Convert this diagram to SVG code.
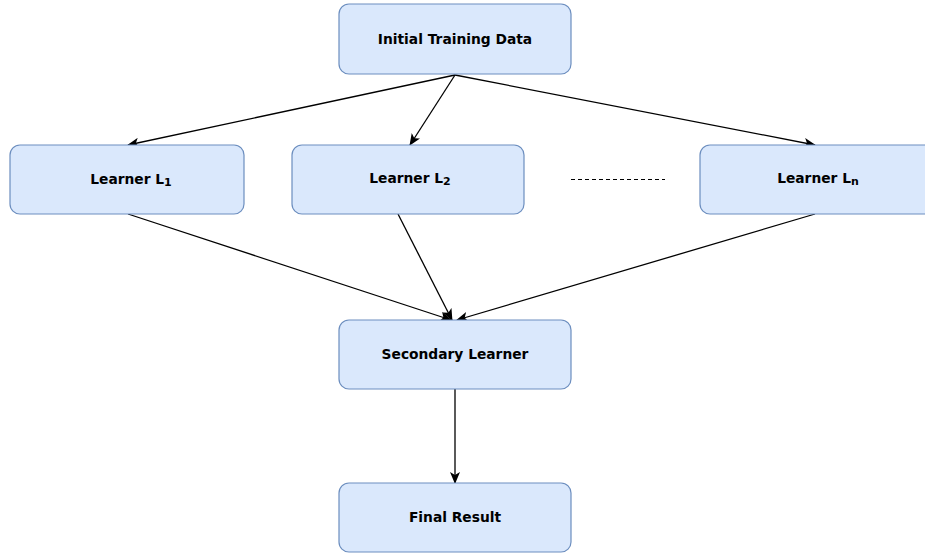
<svg xmlns="http://www.w3.org/2000/svg" width="925" height="553" viewBox="0 0 925 553">
<style>
.box{fill:#dae8fc;stroke:#6c8ebf;stroke-width:1.2}
.lbl{font-family:"DejaVu Sans",Verdana,sans-serif;font-weight:bold;font-size:13.8px;fill:#000;text-anchor:middle;dominant-baseline:middle}
.sub{font-size:11px}
.edge{stroke:#000;stroke-width:1.3;fill:none;marker-end:url(#arr)}
</style>
<defs>
<marker id="arr" markerWidth="12" markerHeight="10" refX="11" refY="5" orient="auto" markerUnits="userSpaceOnUse">
<path d="M0,0 L12,5 L0,10 L3,5 Z" fill="#000"/>
</marker>
</defs>
<rect width="925" height="553" fill="#fff"/>
<g id="connectors">
<line class="edge" x1="455" y1="75" x2="128" y2="145"/>
<line class="edge" x1="455" y1="75" x2="410" y2="145"/>
<line class="edge" x1="455" y1="75" x2="815" y2="145"/>
<line class="edge" x1="128" y1="214" x2="451" y2="320"/>
<line class="edge" x1="398" y1="214" x2="452" y2="320"/>
<line class="edge" x1="815" y1="214" x2="457" y2="320"/>
<line class="edge" x1="455" y1="389" x2="455" y2="483"/>
<line x1="571" y1="179.5" x2="665" y2="179.5" stroke="#000" stroke-width="1" stroke-dasharray="4,3"/>
</g>
<g id="initial">
<rect class="box" x="339" y="4" width="232" height="70" rx="10"/>
<text class="lbl" x="455" y="40">Initial Training Data</text>
</g>
<g id="learner1">
<rect class="box" x="10" y="145" width="234" height="69" rx="10"/>
<text class="lbl" x="131" y="180">Learner L<tspan class="sub" dy="3">1</tspan></text>
</g>
<g id="learner2">
<rect class="box" x="292" y="145" width="232" height="69" rx="10"/>
<text class="lbl" x="410" y="179">Learner L<tspan class="sub" dy="3">2</tspan></text>
</g>
<g id="learnern">
<rect class="box" x="700" y="145" width="240" height="69" rx="10"/>
<text class="lbl" x="818" y="179">Learner L<tspan class="sub" dy="3">n</tspan></text>
</g>
<g id="secondary">
<rect class="box" x="339" y="320" width="232" height="69" rx="10"/>
<text class="lbl" x="455" y="355">Secondary Learner</text>
</g>
<g id="final">
<rect class="box" x="339" y="483" width="232" height="69" rx="10"/>
<text class="lbl" x="455" y="518">Final Result</text>
</g>
</svg>
